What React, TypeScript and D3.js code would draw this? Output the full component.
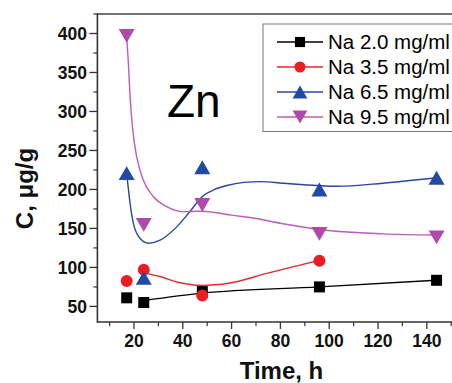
import React from 'react';
import * as d3 from 'd3';

// ---- data ----
const times = [17, 24, 48, 96, 144];
const times35 = [17, 24, 48, 96];
const seriesNames = ['Na 2.0 mg/ml', 'Na 3.5 mg/ml', 'Na 6.5 mg/ml', 'Na 9.5 mg/ml'];
const na20 = [61, 55, 69, 75, 83.5];
const na35 = [82.5, 97, 64, 108.6];
const na65 = [221, 86.6, 228.5, 200, 215];
const na95 = [397, 154.5, 180, 143, 138.5];

// fitted smooth curves
const fitTime20 = [24, 48, 96, 144];
const fit20 = [57.5, 67, 75, 83.5];
const fitTime35 = [24, 31, 38, 48, 55, 61, 74, 88, 96];
const fit35 = [93, 88, 81, 77, 78, 81, 92, 103, 109];
const fitTime65 = [17, 18.4, 19.7, 22.5, 25.9, 30.7, 37.5, 43, 48, 53, 58, 65, 72, 81, 95, 103, 122, 144];
const fit65 = [221, 182, 157, 137, 131, 135, 152, 172, 191, 200, 205, 209, 210, 208, 205, 204, 208, 215];
const fitTime95 = [17, 17.7, 18.4, 19.5, 21.1, 23.8, 27.9, 33.4, 40.2, 47, 53, 60, 67.5, 81, 95, 122, 144];
const fit95 = [397, 362, 319, 276, 242, 212, 191, 178, 171.5, 172, 170.5, 167, 164, 156, 149, 143, 141.5];

const xTickValues = [20, 40, 60, 80, 100, 120, 140];
const xMinorValues = [10, 30, 50, 70, 90, 110, 130, 150];
const yTickValues = [50, 100, 150, 200, 250, 300, 350, 400];
const yMinorValues = [75, 125, 175, 225, 275, 325, 375, 425];

const W = 452;
const H = 383;
const FONT = "'Liberation Sans', Arial, sans-serif";

const triUp = {
  draw(ctx: any, size: number) {
    const w = Math.sqrt((size * 4) / Math.sqrt(3));
    const h = (w * Math.sqrt(3)) / 2;
    ctx.moveTo(0, -h / 2);
    ctx.lineTo(w / 2, h / 2);
    ctx.lineTo(-w / 2, h / 2);
    ctx.closePath();
  },
};
const triDown = {
  draw(ctx: any, size: number) {
    const w = Math.sqrt((size * 4) / Math.sqrt(3));
    const h = (w * Math.sqrt(3)) / 2;
    ctx.moveTo(0, h / 2);
    ctx.lineTo(w / 2, -h / 2);
    ctx.lineTo(-w / 2, -h / 2);
    ctx.closePath();
  },
};

export default function App() {
  const x = d3.scaleLinear().domain([5, 150]).range([97.4, 451.2]);
  const y = d3.scaleLinear().domain([30, 425]).range([322, 14]);
  const x0 = x(5);
  const y0 = y(30);

  const series = [
    { name: seriesNames[0], t: times, v: na20, ft: fitTime20, fv: fit20, color: '#000000', line: '#000000', sym: d3.symbolSquare, size: 121 },
    { name: seriesNames[1], t: times35, v: na35, ft: fitTime35, fv: fit35, color: '#ec1c24', line: '#e42a2e', sym: d3.symbolCircle, size: 113 },
    { name: seriesNames[2], t: times, v: na65, ft: fitTime65, fv: fit65, color: '#2249a3', line: '#2a4699', sym: triUp, size: 111 },
    { name: seriesNames[3], t: times, v: na95, ft: fitTime95, fv: fit95, color: '#b04aa8', line: '#bd5db6', sym: triDown, size: 111 },
  ];

  const lineGen = d3
    .line<[number, number]>()
    .x((d) => x(d[0]))
    .y((d) => y(d[1]))
    .curve(d3.curveMonotoneX);

  const axisColor = '#333';

  return (
    <svg width={W} height={H} style={{ position: 'absolute', left: 0, top: 0, background: '#fff' }} fontFamily={FONT}>
      <rect x={0} y={0} width={W} height={H} fill="#fff" />
      {/* frame top */}
      <line x1={x0} x2={W + 5} y1={y(425)} y2={y(425)} stroke="#444" strokeWidth={1.6} />
      {/* y axis */}
      <line x1={x0} x2={x0} y1={y(425) - 0.8} y2={y0 + 0.8} stroke={axisColor} strokeWidth={1.6} />
      {/* x axis */}
      <line x1={x0} x2={W + 5} y1={y0} y2={y0} stroke={axisColor} strokeWidth={1.6} />
      {yTickValues.map((v) => (
        <g key={'yt' + v}>
          <line x1={x0 - 8} x2={x0} y1={y(v)} y2={y(v)} stroke={axisColor} strokeWidth={1.3} />
          <text x={87} y={y(v)} dy="0.36em" textAnchor="end" fontSize={17.5} fontWeight="bold" fill="#111">
            {v}
          </text>
        </g>
      ))}
      {yMinorValues.map((v) => (
        <line key={'ym' + v} x1={x0 - 4} x2={x0} y1={y(v)} y2={y(v)} stroke={axisColor} strokeWidth={1.2} />
      ))}
      {xTickValues.map((v) => (
        <g key={'xt' + v}>
          <line x1={x(v)} x2={x(v)} y1={y0} y2={y0 + 7} stroke={axisColor} strokeWidth={1.3} />
          <text x={x(v)} y={346.5} textAnchor="middle" fontSize={17.5} fontWeight="bold" fill="#111">
            {v}
          </text>
        </g>
      ))}
      {xMinorValues.map((v) => (
        <line key={'xm' + v} x1={x(v)} x2={x(v)} y1={y0} y2={y0 + 4} stroke={axisColor} strokeWidth={1.2} />
      ))}
      {/* axis titles */}
      <text x={281.5} y={378.5} textAnchor="middle" fontSize={24} fontWeight="bold" fill="#111">
        Time, h
      </text>
      <text transform="translate(33,188.5) rotate(-90)" textAnchor="middle" fontSize={24} fontWeight="bold" fill="#111">
        C, μg/g
      </text>
      {/* Zn label */}
      <text x={167} y={117} fontSize={46} fill="#000">
        Zn
      </text>
      {/* curves and markers */}
      {series.map((s, i) => (
        <path
          key={'c' + i}
          d={lineGen(s.ft.map((t, j) => [t, s.fv[j]] as [number, number])) || ''}
          fill="none"
          stroke={s.line}
          strokeWidth={1.4}
        />
      ))}
      {series.map((s, i) => (
        <g key={'m' + i}>
          {s.t.map((t, j) => (
            <path
              key={j}
              transform={`translate(${x(t)},${y(s.v[j])})`}
              d={d3.symbol().type(s.sym as any).size(s.size)() || ''}
              fill={s.color}
            />
          ))}
        </g>
      ))}
      {/* legend */}
      <rect x={263} y={24} width={W} height={107.5} fill="#fff" stroke="#777" strokeWidth={1} />
      {series.map((s, i) => {
        const cy = 42 + i * 25;
        return (
          <g key={'l' + i}>
            <line x1={277} x2={323} y1={cy} y2={cy} stroke={s.line} strokeWidth={1.5} />
            <path transform={`translate(300,${cy})`} d={d3.symbol().type(s.sym as any).size(s.size * 0.85)() || ''} fill={s.color} />
            <text x={328} y={cy + 6.5} fontSize={20.5} fill="#000">
              {s.name}
            </text>
          </g>
        );
      })}
    </svg>
  );
}
